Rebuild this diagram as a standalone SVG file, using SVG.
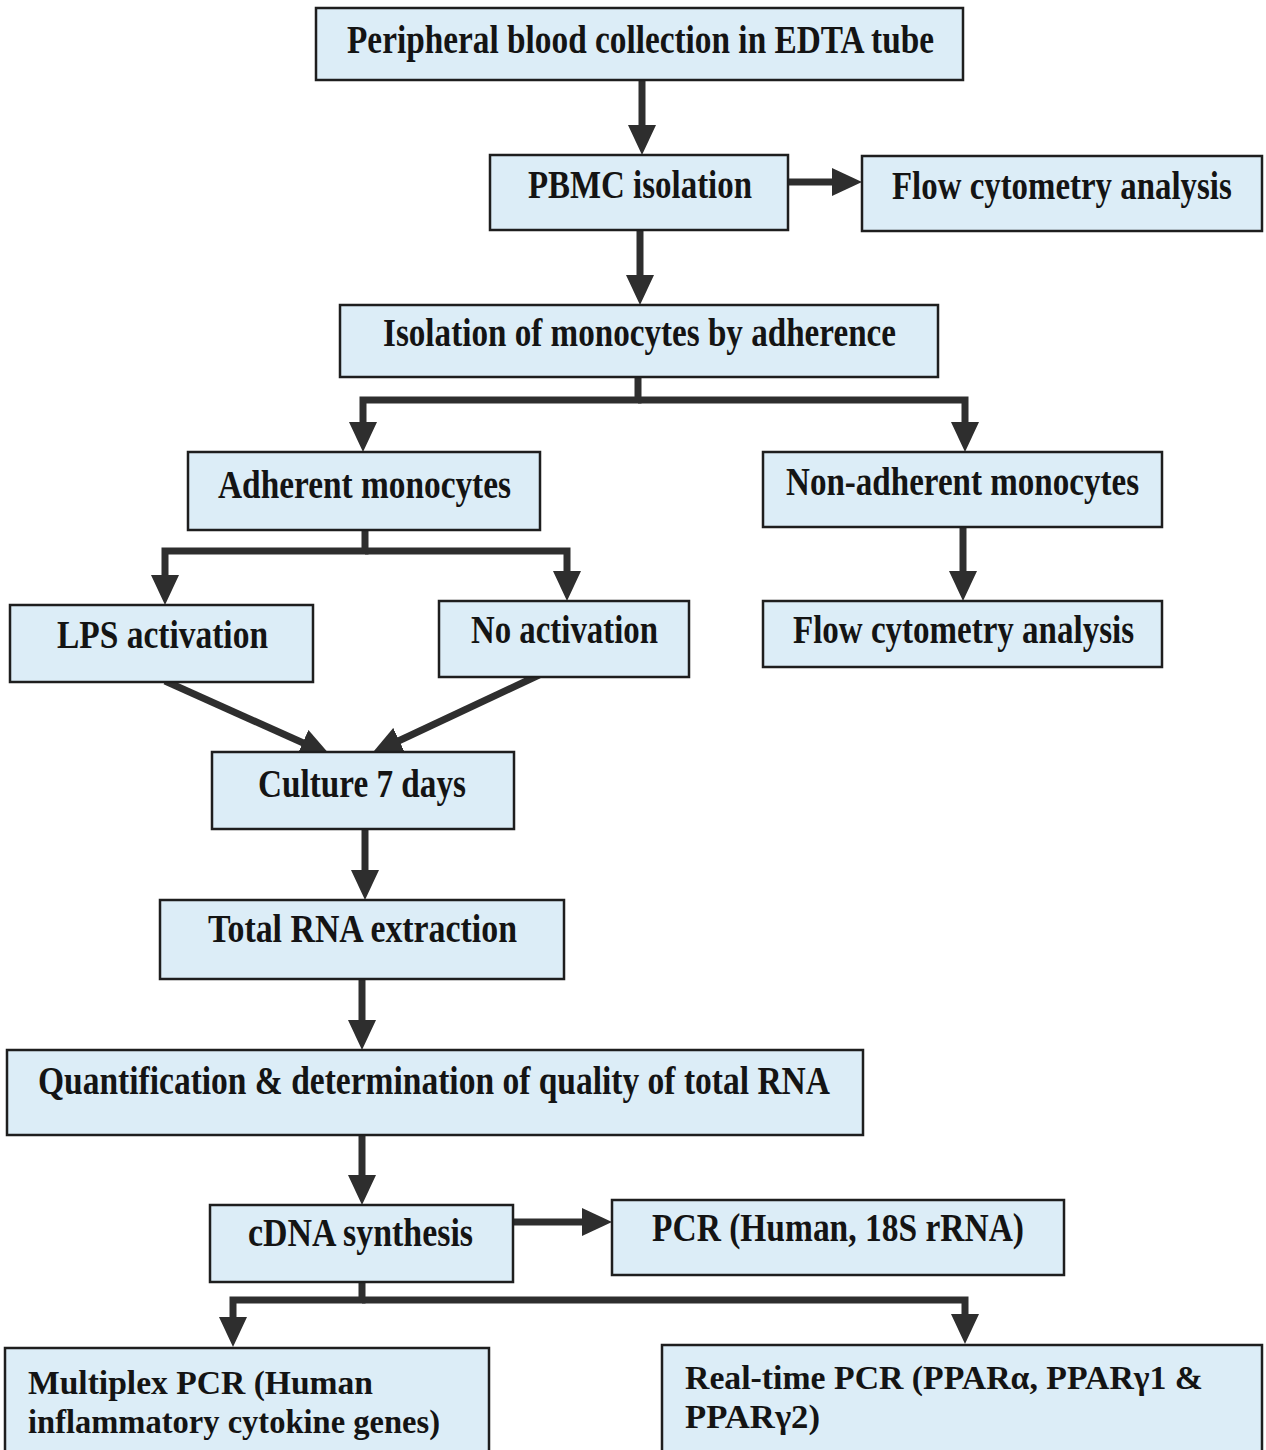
<svg xmlns="http://www.w3.org/2000/svg" width="1266" height="1450" viewBox="0 0 1266 1450">
<style>
.box{fill:#dcedf7;stroke:#1e1e1e;stroke-width:2.5}
.t{font-family:"Liberation Serif","Times New Roman",serif;font-weight:bold;font-size:39px;fill:#141414}
.s{font-size:33px}
.c{fill:none;stroke:#2e2e2e;stroke-width:7;stroke-linejoin:miter}
</style>
<defs>
<marker id="ah" viewBox="0 0 30 28" refX="8" refY="14" markerWidth="30" markerHeight="28" markerUnits="userSpaceOnUse" orient="auto">
<path d="M0 0 L30 14 L0 28 Z" fill="#2e2e2e"/>
</marker>
</defs>
<rect width="1266" height="1450" fill="#ffffff"/>
<g id="connectors">
<path class="c" d="M642 80 V133" marker-end="url(#ah)"/>
<path class="c" d="M788 182 H840" marker-end="url(#ah)"/>
<path class="c" d="M640 230 V283" marker-end="url(#ah)"/>
<path class="c" d="M638 377 V400 H363 V430" marker-end="url(#ah)"/>
<path class="c" d="M638 400 H965 V430" marker-end="url(#ah)"/>
<path class="c" d="M963 527 V579" marker-end="url(#ah)"/>
<path class="c" d="M365 530 V551 H165 V583" marker-end="url(#ah)"/>
<path class="c" d="M365 551 H567 V579" marker-end="url(#ah)"/>
<path class="c" d="M165 681 L310 746" marker-end="url(#ah)"/>
<path class="c" d="M539 675 L392 744" marker-end="url(#ah)"/>
<path class="c" d="M365 829 V878" marker-end="url(#ah)"/>
<path class="c" d="M362 979 V1028" marker-end="url(#ah)"/>
<path class="c" d="M362 1135 V1183" marker-end="url(#ah)"/>
<path class="c" d="M513 1222 H590" marker-end="url(#ah)"/>
<path class="c" d="M362 1282 V1300 H233 V1325" marker-end="url(#ah)"/>
<path class="c" d="M362 1300 H965 V1322" marker-end="url(#ah)"/>
</g>
<g id="n1"><rect class="box" x="316" y="8" width="647" height="72"/><text class="t" x="347" y="53" font-size="41" textLength="587" lengthAdjust="spacingAndGlyphs">Peripheral blood collection in EDTA tube</text></g>
<g id="n2"><rect class="box" x="490" y="155" width="298" height="75"/><text class="t" x="528" y="198" textLength="224" lengthAdjust="spacingAndGlyphs">PBMC isolation</text></g>
<g id="n3"><rect class="box" x="862" y="156" width="400" height="75"/><text class="t" transform="translate(892 199) scale(0.76 1)" x="0" y="0" textLength="447" lengthAdjust="spacingAndGlyphs">Flow cytometry analysis</text></g>
<g id="n4"><rect class="box" x="340" y="305" width="598" height="72"/><text class="t" x="383" y="346" textLength="513" lengthAdjust="spacingAndGlyphs">Isolation of monocytes by adherence</text></g>
<g id="n5"><rect class="box" x="188" y="452" width="352" height="78"/><text class="t" x="218" y="498" textLength="293" lengthAdjust="spacingAndGlyphs">Adherent monocytes</text></g>
<g id="n6"><rect class="box" x="763" y="452" width="399" height="75"/><text class="t" x="786" y="495" textLength="353" lengthAdjust="spacingAndGlyphs">Non-adherent monocytes</text></g>
<g id="n7"><rect class="box" x="763" y="601" width="399" height="66"/><text class="t" x="793" y="643" textLength="341" lengthAdjust="spacingAndGlyphs">Flow cytometry analysis</text></g>
<g id="n8"><rect class="box" x="10" y="605" width="303" height="77"/><text class="t" x="57" y="648" textLength="211" lengthAdjust="spacingAndGlyphs">LPS activation</text></g>
<g id="n9"><rect class="box" x="439" y="601" width="250" height="76"/><text class="t" x="471" y="643" textLength="187" lengthAdjust="spacingAndGlyphs">No activation</text></g>
<g id="n10"><rect class="box" x="212" y="752" width="302" height="77"/><text class="t" x="258" y="797" textLength="208" lengthAdjust="spacingAndGlyphs">Culture 7 days</text></g>
<g id="n11"><rect class="box" x="160" y="900" width="404" height="79"/><text class="t" x="208" y="942" textLength="309" lengthAdjust="spacingAndGlyphs">Total RNA extraction</text></g>
<g id="n12"><rect class="box" x="7" y="1050" width="856" height="85"/><text class="t" x="38" y="1094" textLength="792" lengthAdjust="spacingAndGlyphs">Quantification &amp; determination of quality of total RNA</text></g>
<g id="n13"><rect class="box" x="210" y="1205" width="303" height="77"/><text class="t" x="248" y="1246" textLength="225" lengthAdjust="spacingAndGlyphs">cDNA synthesis</text></g>
<g id="n14"><rect class="box" x="612" y="1200" width="452" height="75"/><text class="t" x="652" y="1241" textLength="372" lengthAdjust="spacingAndGlyphs">PCR (Human, 18S rRNA)</text></g>
<g id="n15"><rect class="box" x="5" y="1348" width="484" height="112"/><text class="t s" x="28" y="1394" textLength="345" lengthAdjust="spacingAndGlyphs">Multiplex PCR (Human</text><text class="t s" x="28" y="1433" textLength="412" lengthAdjust="spacingAndGlyphs">inflammatory cytokine genes)</text></g>
<g id="n16"><rect class="box" x="662" y="1345" width="600" height="115"/><text class="t s" x="685" y="1389" textLength="518" lengthAdjust="spacingAndGlyphs">Real-time PCR (PPARα, PPARγ1 &amp;</text><text class="t s" x="685" y="1428" textLength="135" lengthAdjust="spacingAndGlyphs">PPARγ2)</text></g>
</svg>
